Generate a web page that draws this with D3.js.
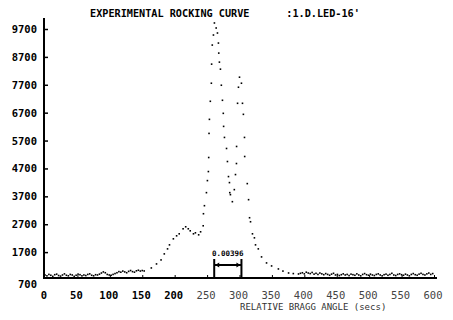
<!DOCTYPE html>
<html>
<head>
<meta charset="utf-8">
<script src="https://cdn.jsdelivr.net/npm/d3@7"></script>
<style>
  body { margin: 0; background: #fff; }
  svg { display: block; }
  text { font-family: "DejaVu Sans Mono", monospace; fill: #000; }
</style>
</head>
<body>
<svg></svg>
<script>
    /* chart data */
    let title = "EXPERIMENTAL ROCKING CURVE      :1.D.LED-16'";
    let xTitle = "RELATIVE BRAGG ANGLE (secs)";
    let xTicks = [0, 50, 100, 150, 200, 250, 300, 350, 400, 450, 500, 550, 600];
    let yTicks = [700, 1700, 2700, 3700, 4700, 5700, 6700, 7700, 8700, 9700];
    let scanStep = 3;
    let leftStart = 0;
    let leftCounts = [880, 850, 900, 870, 830, 890, 910, 860, 840, 880, 920, 870, 850, 900,
        880, 830, 870, 910, 890, 850, 880, 860, 900, 920, 870, 850, 890,
        880, 910, 950, 990, 960, 900, 880, 870, 900, 930, 960, 1000, 980, 1020,
        990, 960, 1010, 1040, 1000, 980, 1030, 1050, 1020, 1040];
    let peakAngles = [153, 164, 172, 179, 184, 189, 192, 198, 203, 207, 213, 217, 221, 224,
        229, 232, 237, 240, 244, 244.4, 245.9, 249, 250.5, 252, 252.5, 253, 253.6, 255,
        256.6, 257, 258, 259.8, 261.3, 264, 266, 267.5, 268, 269, 270.6, 272, 273.7,
        275, 275.5, 276.8, 280, 281.4, 283, 284.5, 285, 286, 289, 292, 293.8, 295.3,
        295.5, 297, 298.4, 300, 303, 304.6, 306, 307.7, 308, 312, 314, 315.5, 317, 320,
        323, 324.7, 329, 334, 341.7, 349.5, 360, 367, 375.7, 383, 391];
    let peakCounts = [1024, 1132, 1276, 1420, 1636, 1816, 1960, 2176, 2284, 2356, 2536, 2608,
        2536, 2464, 2356, 2392, 2320, 2428, 2644, 3076, 3364, 3832, 4264, 4588, 5092,
        5956, 6460, 7108, 7756, 8440, 9124, 9484, 9916, 9736, 9556, 9196, 8836, 8512,
        8260, 7684, 7144, 6676, 6208, 5812, 5416, 4948, 4408, 4192, 3832, 3760, 3508,
        3940, 4480, 4876, 5488, 7036, 7612, 7972, 7756, 7036, 6640, 5812, 5128, 4156,
        3580, 2932, 2788, 2356, 2212, 1960, 1816, 1528, 1312, 1204, 1096, 1020, 952,
        930, 916];
    let rightStart = 394;
    let rightCounts = [940, 960, 920, 980, 950, 930, 970, 910, 940, 900, 950, 920, 890, 930,
        900, 870, 910, 940, 880, 900, 860, 890, 920,
        880, 900, 860, 910, 890, 870, 920, 880, 850, 900, 930, 890, 870, 910, 880, 860,
        900, 920, 880, 850, 890, 910, 870, 900, 940, 880, 860, 900, 920, 890, 870, 910,
        880, 850, 900, 930, 890, 870, 910, 940, 900, 880, 920, 950, 900, 930];
    let fwhm = [261, 303];
    let fwhmLabel = "0.00396";

    let width = 453;
    let height = 320;

    const svg = d3.select("svg").attr("width", width).attr("height", height);

    let points = [];
    leftCounts.forEach((c, i) => points.push([leftStart + i * scanStep, c]));
    peakAngles.forEach((a, i) => points.push([a, peakCounts[i]]));
    rightCounts.forEach((c, i) => points.push([rightStart + i * scanStep, c]));

    let xScale = d3.scaleLinear().domain([0, 600]).range([45, 434]);
    let yScale = d3.scaleLinear().domain([700, 9700]).range([280, 29]);

    // title
    svg.append("text").attr("x", 90).attr("y", 17)
        .style("font-size", "10.2px").style("font-weight", "bold")
        .attr("xml:space", "preserve").text(title);

    // y axis
    svg.append("line").attr("x1", 44).attr("x2", 44).attr("y1", 18).attr("y2", 279)
        .attr("stroke", "#000").attr("stroke-width", 2);
    let yAxis = d3.axisRight(yScale).tickValues(yTicks.slice(1)).tickSize(4).tickFormat("");
    let gy = svg.append("g").attr("transform", "translate(44,0)").call(yAxis);
    gy.select(".domain").remove();
    gy.selectAll("line").attr("stroke-width", 1.5);
    svg.append("g").selectAll("text").data(yTicks).enter().append("text")
        .attr("x", 37).attr("y", d => yScale(d) + (d === 700 ? 8 : 4))
        .attr("text-anchor", "end")
        .style("font-size", "10.5px").style("font-weight", "bold")
        .text(d => d);

    // x axis
    svg.append("line").attr("x1", 43).attr("x2", 437).attr("y1", 278).attr("y2", 278)
        .attr("stroke", "#000").attr("stroke-width", 2);
    let xAxis = d3.axisTop(xScale).tickValues(xTicks.slice(1)).tickSize(3).tickFormat("");
    let gx = svg.append("g").attr("transform", "translate(0,278)").call(xAxis);
    gx.select(".domain").remove();
    svg.append("g").selectAll("text").data(xTicks).enter().append("text")
        .attr("x", d => xScale(d) - 1).attr("y", 299)
        .attr("text-anchor", "middle")
        .style("font-size", "10.5px")
        .style("font-weight", d => d < 250 ? "bold" : "normal")
        .style("fill", d => d < 250 ? "#000" : "#444")
        .text(d => d);
    svg.append("text").attr("x", 240).attr("y", 310)
        .style("font-size", "9px").style("fill", "#333").text(xTitle);

    // data dots
    svg.append("g").selectAll("rect").data(points).enter().append("rect")
        .attr("x", d => xScale(d[0]) - 0.8)
        .attr("y", d => yScale(d[1]) - 0.8)
        .attr("width", 1.6).attr("height", 1.6)
        .attr("fill", "#000");

    // FWHM bracket
    let fx0 = xScale(fwhm[0]), fx1 = xScale(fwhm[1]);
    let fw = svg.append("g").attr("stroke", "#000").attr("stroke-width", 2);
    fw.append("line").attr("x1", fx0).attr("x2", fx0).attr("y1", 259).attr("y2", 278);
    fw.append("line").attr("x1", fx1).attr("x2", fx1).attr("y1", 259).attr("y2", 278);
    fw.append("line").attr("x1", fx0).attr("x2", fx1).attr("y1", 265).attr("y2", 265);
    svg.append("path")
        .attr("d", `M${fx0 + 1},265 l4,-2.5 v5 z M${fx1 - 1},265 l-4,-2.5 v5 z`)
        .attr("fill", "#000");
    svg.append("text").attr("x", (fx0 + fx1) / 2).attr("y", 256)
        .attr("text-anchor", "middle")
        .style("font-size", "7.5px").style("font-weight", "bold")
        .text(fwhmLabel);
</script>
</body>
</html>
